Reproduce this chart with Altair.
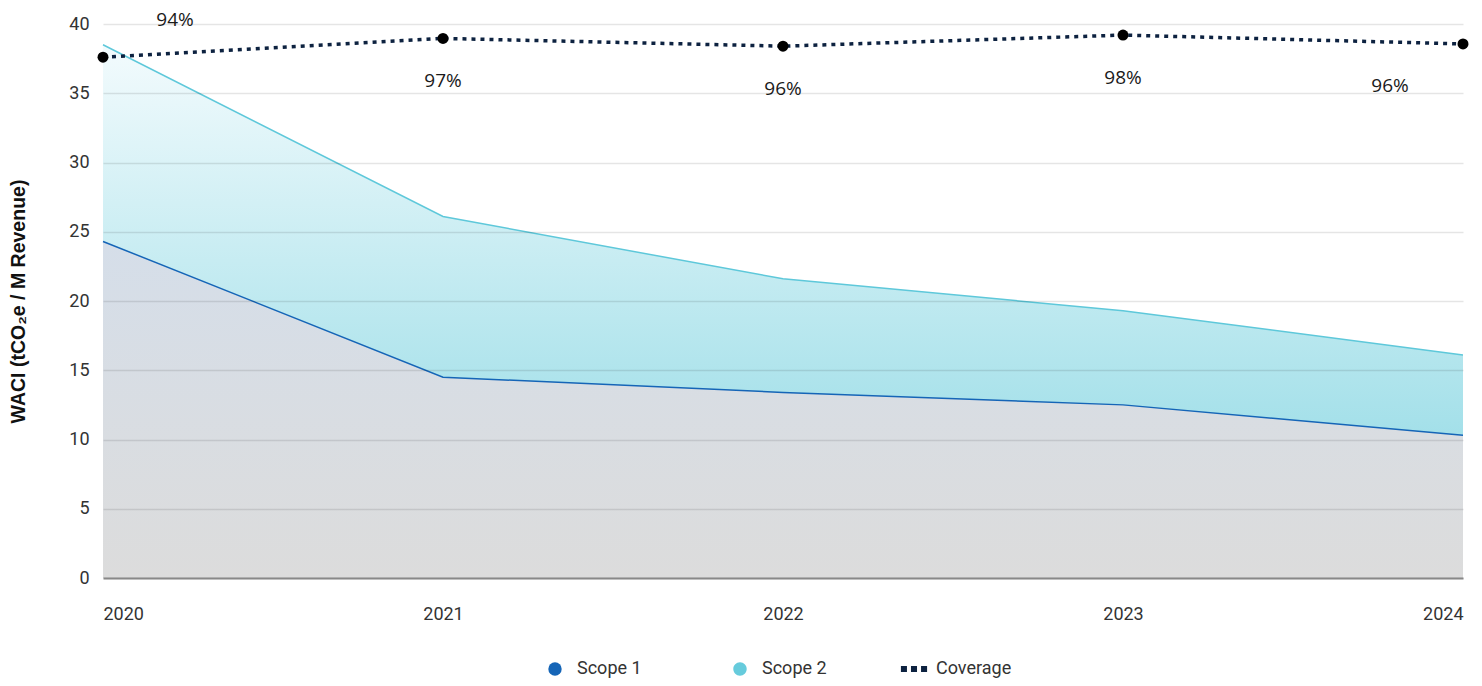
import altair as alt
import pandas as pd

# ---- data ----
years = [2020, 2021, 2022, 2023, 2024]
scope1 = [24.3, 14.5, 13.4, 12.5, 10.3]
scope2 = [14.2, 11.6, 8.2, 6.8, 5.8]          # stacked on top of Scope 1
coverage = [94.0, 97.4, 96.0, 98.0, 96.4]     # percent
series = ["Scope 1", "Scope 2", "Coverage"]
series_colors = ["#1565b7", "#66cbdc", "#0d2240"]
y_ticks = [0, 5, 10, 15, 20, 25, 30, 35, 40]

df = pd.DataFrame({"year": years, "scope1": scope1, "scope2": scope2, "coverage": coverage})

base = alt.Chart(df).transform_calculate(
    total="datum.scope1 + datum.scope2",
    label="format(datum.coverage, '.0f') + '%'",
)

x_enc = alt.X(
    "year:Q",
    scale=alt.Scale(domain=[2020, 2024], nice=False, zero=False),
    axis=alt.Axis(values=years, format="d", labelFlush=True, grid=False, ticks=False,
                  domainColor="#888888", domainWidth=2, labelPadding=27,
                  labelFont="Roboto", labelFontSize=18, labelColor="#333333",
                  title=None, zindex=1),
)

y_title = "WACI (tCO\u2082e / M Revenue)"
y_axis = alt.Axis(values=y_ticks, title=y_title, domain=False, ticks=False,
                  labelFont="Roboto", labelFontSize=18, labelColor="#333333", labelPadding=14,
                  titleFont="Liberation Sans", titleFontSize=19.5, titleFontWeight="bold",
                  titleColor="#111111", titlePadding=40,
                  gridColor="#000000", gridOpacity=0.1, gridWidth=1.5, zindex=1)
y_scale = alt.Scale(domain=[0, 40], nice=False)

grad2 = alt.Gradient(gradient="linear",
                     stops=[alt.GradientStop(color="#f3fbfd", offset=0),
                            alt.GradientStop(color="#86d6e2", offset=1)],
                     x1=1, x2=1, y1=0, y2=1)
grad1 = alt.Gradient(gradient="linear",
                     stops=[alt.GradientStop(color="#d5dee9", offset=0),
                            alt.GradientStop(color="#dcdcdc", offset=1)],
                     x1=1, x2=1, y1=0, y2=1)

area2 = base.mark_area(color=grad2, fillOpacity=1).encode(
    x=x_enc, y=alt.Y("total:Q", scale=y_scale, axis=y_axis))
area1 = base.mark_area(color=grad1, fillOpacity=1).encode(
    x=x_enc, y=alt.Y("scope1:Q", scale=y_scale, axis=y_axis))
line2 = base.mark_line(color="#5ec8da", strokeWidth=1.5).encode(
    x=x_enc, y=alt.Y("total:Q", scale=y_scale, axis=y_axis))
line1 = base.mark_line(color="#1565b7", strokeWidth=1.5).encode(
    x=x_enc, y=alt.Y("scope1:Q", scale=y_scale, axis=y_axis))

main = alt.layer(area2, area1, line2, line1)

y_cov = alt.Y("coverage:Q", scale=alt.Scale(domain=[0, 100], nice=False), axis=None)
cov_line = base.mark_line(color="#0d2240", strokeWidth=3.5, strokeDash=[4, 5]).encode(x=x_enc, y=y_cov)
cov_pts = base.mark_circle(color="#000000", size=120, opacity=1).encode(x=x_enc, y=y_cov)
txt_kw = dict(font="Open Sans", fontSize=19, color="#1a1a1a", baseline="middle", align="center")
t_first = base.transform_filter("datum.year == 2020").mark_text(dx=72, dy=-37, **txt_kw).encode(
    x=x_enc, y=y_cov, text="label:N")
t_mid = base.transform_filter("datum.year > 2020 && datum.year < 2024").mark_text(dy=43, **txt_kw).encode(
    x=x_enc, y=y_cov, text="label:N")
t_last = base.transform_filter("datum.year == 2024").mark_text(dx=-73, dy=42, **txt_kw).encode(
    x=x_enc, y=y_cov, text="label:N")

cov = alt.layer(cov_line, cov_pts, t_first, t_mid, t_last)

# legend symbols: plain circle, circle with wider layout box, three-square dotted line
circle_wide = "M-3.7,0L-3.7,0M1,0A1,1,0,1,1,-1,0A1,1,0,1,1,1,0Z"
cov_path = ("M-1.95,-0.45H-1.05V0.45H-1.95Z"
            "M-0.45,-0.45H0.45V0.45H-0.45Z"
            "M1.05,-0.45H1.95V0.45H1.05Z")
leg = alt.Legend(title=None, orient="none", legendX=443, legendY=636, direction="horizontal",
                 symbolSize=180, symbolStrokeWidth=0, labelOffset=13, columnPadding=73,
                 labelFont="Roboto", labelFontSize=18, labelColor="#333333", padding=0)
legend_layer = alt.Chart(pd.DataFrame({"series": series})).transform_filter("false").mark_point(
    filled=True, opacity=1).encode(
    color=alt.Color("series:N", scale=alt.Scale(domain=series, range=series_colors), legend=leg),
    shape=alt.Shape("series:N", scale=alt.Scale(domain=series, range=["circle", circle_wide, cov_path]),
                    legend=leg),
)

chart = alt.layer(main, cov, legend_layer).resolve_scale(y="independent").properties(
    width=1360, height=554,
    autosize=alt.AutoSizeParams(type="none"),
    padding={"left": 95, "top": 16, "right": 11, "bottom": 100},
).configure_view(stroke=None)

chart.save("out.html", embed_options={"renderer": "svg", "actions": False})
